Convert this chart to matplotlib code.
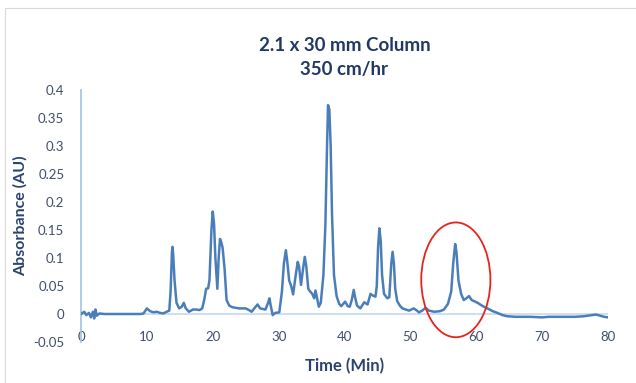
import matplotlib
matplotlib.use("Agg")
import matplotlib.pyplot as plt
from matplotlib.patches import Ellipse, Rectangle

plt.rcParams['font.family'] = ['Lato', 'DejaVu Sans']

time_min = [
    0.0, 0.5, 0.8, 1.2, 1.5, 1.8, 2.0, 2.2, 2.4, 2.8, 3.5, 5.0, 7.0, 9.0, 9.5,
    10.0, 10.5, 11.0, 11.5, 12.0, 12.5, 13.0, 13.4, 13.6, 13.8, 13.9, 14.0, 14.2,
    14.5, 14.9, 15.3, 15.6, 15.9, 16.4, 17.0, 17.5, 18.0, 18.4, 18.7, 19.0, 19.3,
    19.5, 19.8, 20.0, 20.2, 20.4, 20.7, 20.9, 21.1, 21.3, 21.5, 21.8, 22.1, 22.5,
    23.0, 24.0, 25.0, 25.5, 25.9, 26.3, 26.8, 27.2, 28.0, 28.4, 28.6, 28.8, 29.1,
    29.5, 30.1, 30.5, 30.8, 31.1, 31.3, 31.6, 31.9, 32.2, 32.6, 32.9, 33.1, 33.4,
    33.7, 33.97, 34.2, 34.5, 34.8, 35.1, 35.4, 35.6, 35.8, 36.1, 36.4, 36.8, 37.1,
    37.35, 37.5, 37.7, 37.9, 38.1, 38.4, 38.8, 39.2, 39.5, 40.1, 40.5, 40.8, 41.1,
    41.4, 41.6, 41.9, 42.4, 43.0, 43.5, 43.95, 44.3, 44.7, 44.9, 45.1, 45.3, 45.5,
    45.7, 46.0, 46.5, 46.8, 47.1, 47.3, 47.5, 47.7, 48.0, 48.4, 48.8, 49.8, 50.5,
    51.0, 51.3, 51.8, 52.3, 52.8, 53.6, 54.5, 55.1, 55.7, 56.2, 56.5, 56.8, 57.0,
    57.3, 57.7, 58.1, 58.5, 58.9, 59.3, 60.2, 61.0, 61.7, 62.5, 63.2, 64.0, 64.7,
    66.0, 68.2, 70.0, 71.0, 73.3, 75.0, 76.3, 77.5, 78.2, 78.8, 79.4, 80.0,
]
absorbance = [
    0.000, 0.004, -0.002, 0.002, -0.006, 0.004, -0.008, 0.008, -0.003, 0.001, 0.000, 0.000, 0.000, 0.000, 0.001,
    0.010, 0.005, 0.003, 0.004, 0.002, 0.001, 0.004, 0.006, 0.040, 0.110, 0.120, 0.105, 0.060,
    0.020, 0.010, 0.013, 0.020, 0.010, 0.004, 0.008, 0.008, 0.007, 0.010, 0.025, 0.045, 0.046,
    0.060, 0.150, 0.183, 0.160, 0.100, 0.045, 0.100, 0.134, 0.128, 0.118, 0.080, 0.025, 0.015,
    0.012, 0.010, 0.010, 0.007, 0.004, 0.010, 0.017, 0.010, 0.008, 0.020, 0.028, 0.015, -0.002,
    0.002, 0.003, 0.040, 0.090, 0.114, 0.095, 0.060, 0.050, 0.035, 0.070, 0.093, 0.085, 0.052,
    0.080, 0.102, 0.085, 0.045, 0.040, 0.036, 0.028, 0.042, 0.030, 0.013, 0.020, 0.070, 0.160,
    0.300, 0.373, 0.365, 0.300, 0.180, 0.070, 0.032, 0.018, 0.014, 0.022, 0.014, 0.013, 0.025,
    0.043, 0.030, 0.015, 0.010, 0.021, 0.017, 0.036, 0.033, 0.031, 0.050, 0.120, 0.153, 0.130,
    0.070, 0.036, 0.028, 0.030, 0.090, 0.111, 0.090, 0.045, 0.023, 0.015, 0.010, 0.006, 0.010,
    0.006, 0.003, 0.006, 0.011, 0.006, 0.004, 0.005, 0.008, 0.018, 0.040, 0.090, 0.125, 0.110,
    0.060, 0.036, 0.025, 0.028, 0.032, 0.025, 0.020, 0.014, 0.010, 0.005, 0.002, -0.002, -0.004,
    -0.005, -0.005, -0.006, -0.005, -0.005, -0.005, -0.004, -0.002, -0.001, -0.003, -0.005, -0.006,
]

x_ticks = [0, 10, 20, 30, 40, 50, 60, 70, 80]
y_ticks = [-0.05, 0, 0.05, 0.1, 0.15, 0.2, 0.25, 0.3, 0.35, 0.4]
y_tick_labels = ['-0.05', '0', '0.05', '0.1', '0.15', '0.2', '0.25', '0.3', '0.35', '0.4']

title = "2.1 x 30 mm Column\n350 cm/hr"
x_label = "Time (Min)"
y_label = "Absorbance (AU)"

# highlighted region (ellipse) in data units
ellipse_center = (56.9, 0.061)
ellipse_size = (10.5, 0.205)

W, H = 636, 383
fig = plt.figure(figsize=(W / 100, H / 100), dpi=100)

# chart border
fig.patches.append(Rectangle((5 / W, 0 - 0.01), 1.0, 1 - 8 / H + 0.01,
                             transform=fig.transFigure, fill=False,
                             edgecolor='#D9D9D9', linewidth=0.8))

ax = fig.add_axes([81 / W, (H - 342) / H, (608 - 81) / W, (342 - 90) / H])
text_col = '#3E4F6A'
label_col = '#2A4470'
line_col = '#4A7EBB'
axis_col = '#9DC3E6'

ax.plot(time_min, absorbance, color=line_col, linewidth=1.8, solid_joinstyle='round', zorder=3)
ax.axhline(0, color='#C5D9F1', linewidth=1.2, zorder=2)

ax.set_xlim(0, 80)
ax.set_ylim(-0.05, 0.4)
ax.set_xticks(x_ticks)
ax.set_yticks(y_ticks)
ax.set_yticklabels(y_tick_labels)

for s in ['top', 'right', 'bottom']:
    ax.spines[s].set_visible(False)
ax.spines['left'].set_color(axis_col)
ax.spines['left'].set_linewidth(1.2)
ax.tick_params(axis='both', length=0, labelsize=9.5, labelcolor=text_col)
ax.tick_params(axis='x', pad=-8)
ax.tick_params(axis='y', pad=12)

ax.set_title(title, fontsize=13.5, fontweight='bold', color='#1F3864', pad=11, linespacing=1.45)
ax.set_xlabel(x_label, fontsize=12, fontweight='bold', color=label_col, labelpad=11)
ax.set_ylabel(y_label, fontsize=11.5, fontweight='bold', color=label_col, labelpad=4)

ell = Ellipse(ellipse_center, ellipse_size[0], ellipse_size[1], fill=False,
              edgecolor='#E8221C', linewidth=1.3, zorder=4, clip_on=False)
ax.add_patch(ell)

fig.savefig('out.png', dpi=100)
